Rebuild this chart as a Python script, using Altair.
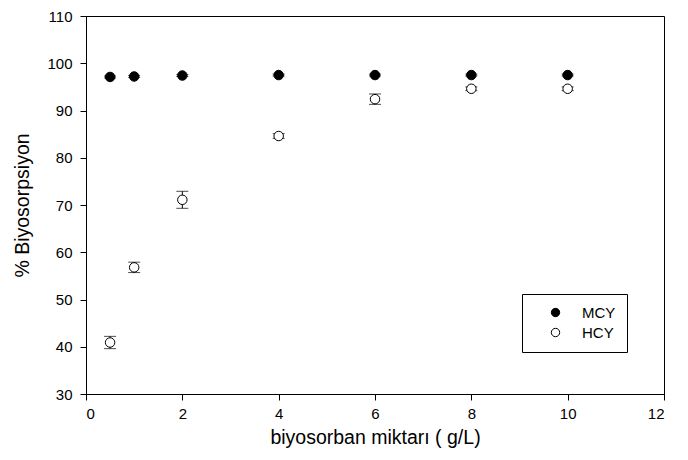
import altair as alt
import pandas as pd

doses = [0.5, 1, 2, 4, 6, 8, 10]
mcy = [97.1, 97.2, 97.4, 97.5, 97.5, 97.5, 97.5]
mcy_err = [0.2, 0.2, 0.2, 0.2, 0.2, 0.2, 0.2]
hcy = [40.9, 56.8, 71.1, 84.6, 92.4, 94.6, 94.6]
hcy_err = [1.3, 1.1, 1.8, 0.5, 1.1, 0.4, 0.4]

rows = []
for d, v, e in zip(doses, mcy, mcy_err):
    rows.append({"x": d, "y": v, "lo": v - e, "hi": v + e, "seri": "MCY"})
for d, v, e in zip(doses, hcy, hcy_err):
    rows.append({"x": d, "y": v, "lo": v - e, "hi": v + e, "seri": "HCY"})
df = pd.DataFrame(rows)

FONT = "Liberation Sans"

xs = alt.X("x:Q", scale=alt.Scale(domain=[0, 12], nice=False),
           axis=alt.Axis(values=list(range(0, 13, 2)), title="biyosorban miktarı ( g/L)",
                         titleFontSize=19.5))
ys = alt.Y("y:Q", scale=alt.Scale(domain=[30, 110], nice=False),
           axis=alt.Axis(values=list(range(30, 111, 10)), title="% Biyosorpsiyon",
                         titleFontSize=19.5))

base = alt.Chart(df)

err = base.mark_rule(color="black", strokeWidth=1).encode(
    x=xs, y=alt.Y("lo:Q", scale=alt.Scale(domain=[30, 110], nice=False)), y2="hi:Q"
)
cap_lo = base.mark_tick(color="black", orient="horizontal", size=12, thickness=1).encode(
    x=xs, y=alt.Y("lo:Q")
)
cap_hi = base.mark_tick(color="black", orient="horizontal", size=12, thickness=1).encode(
    x=xs, y=alt.Y("hi:Q")
)

points = base.mark_point(filled=True, shape="circle", stroke="black", strokeWidth=1,
                         opacity=1, size=90).encode(
    x=xs, y=ys,
    fill=alt.Fill("seri:N",
                  scale=alt.Scale(domain=["MCY", "HCY"], range=["black", "white"]),
                  legend=alt.Legend(title=None, orient="none", legendX=436, legendY=278,
                                    strokeColor="black", padding=11, symbolOffset=15,
                                    labelOffset=19, rowPadding=4, symbolSize=70,
                                    symbolStrokeColor="black", symbolStrokeWidth=1,
                                    labelFont=FONT, labelFontSize=15, labelColor="black",
                                    symbolType="circle")),
)

chart = alt.layer(err, cap_lo, cap_hi, points).properties(
    width=578, height=378,
    autosize=alt.AutoSizeParams(type="none"),
    padding={"left": 86, "top": 16, "right": 24, "bottom": 66},
    background="white",
).configure_view(stroke="black", strokeWidth=1).configure_axis(
    grid=False, domainColor="black", tickColor="black", tickSize=6,
    labelFont=FONT, labelFontSize=15, labelColor="black",
    titleFont=FONT, titleFontWeight="normal", titleColor="black",
).configure_axisX(labelPadding=6, titlePadding=7).configure_axisY(
    labelPadding=8, titlePadding=14
)

chart.save("out.html", embed_options={"renderer": "svg", "actions": False})
